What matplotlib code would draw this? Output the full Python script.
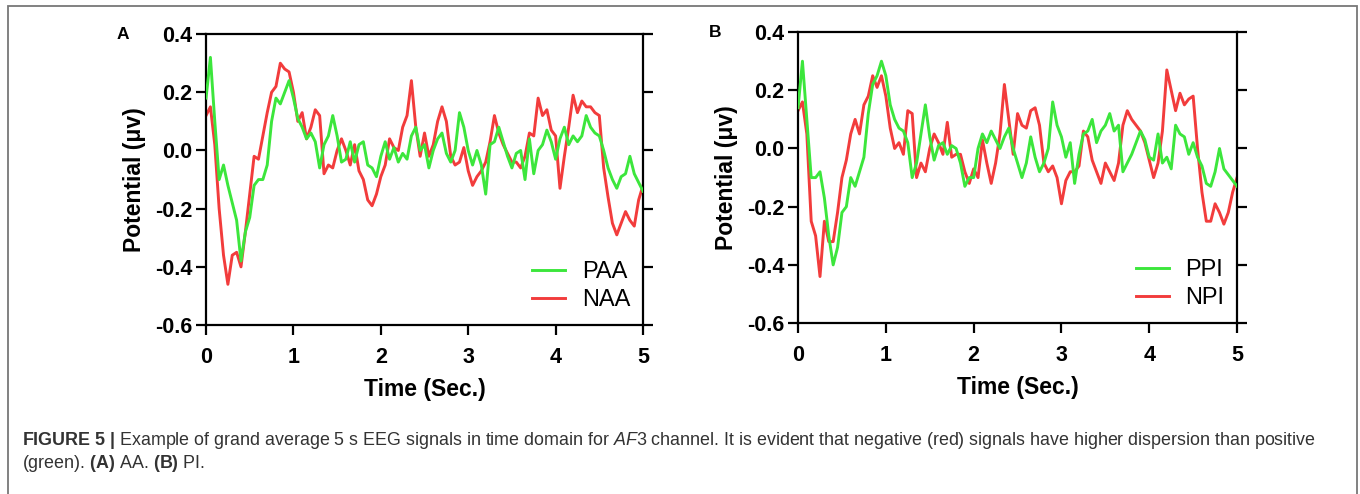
import numpy as np
import matplotlib
matplotlib.use('Agg')
import matplotlib.pyplot as plt
from matplotlib.patches import Rectangle

plt.rcParams['font.family'] = ['Liberation Sans', 'DejaVu Sans']
plt.rcParams['mathtext.fontset'] = 'custom'
plt.rcParams['mathtext.rm'] = 'Liberation Sans'
plt.rcParams['mathtext.bf'] = 'Liberation Sans:bold'
plt.rcParams['mathtext.it'] = 'Liberation Sans:italic'

# Zeitachse, 0.05 s Schritt
time = np.linspace(0, 5, 101)

# Panel A (AA)
paa = [0.18, 0.32, 0.10, -0.10, -0.05, -0.12, -0.18, -0.24, -0.38, -0.28,
       -0.23, -0.12, -0.10, -0.10, -0.05, 0.10, 0.18, 0.16, 0.20, 0.24,
       0.18, 0.11, 0.08, 0.04, 0.06, 0.03, -0.06, 0.02, 0.05, 0.12,
       0.05, -0.04, -0.03, 0.03, -0.04, 0.02, 0.03, -0.05, -0.06, -0.09,
       -0.02, 0.03, -0.03, 0.01, -0.04, -0.01, -0.03, 0.05, 0.08, 0.00,
       0.02, -0.06, 0.00, 0.04, 0.06, -0.01, -0.04, 0.00, 0.13, 0.08,
       0.00, -0.05, 0.00, -0.05, -0.15, 0.02, 0.03, 0.08, 0.03, -0.02,
       -0.06, -0.01, 0.00, -0.10, 0.04, -0.08, 0.00, 0.02, 0.07, 0.03,
       -0.03, 0.04, 0.08, 0.02, 0.05, 0.03, 0.05, 0.12, 0.08, 0.06,
       0.05, 0.00, -0.06, -0.10, -0.13, -0.09, -0.08, -0.02, -0.08, -0.11,
       -0.14]
naa = [0.12, 0.15, 0.02, -0.20, -0.36, -0.46, -0.36, -0.35, -0.40, -0.28,
       -0.15, -0.02, -0.03, 0.05, 0.13, 0.20, 0.22, 0.30, 0.28, 0.27,
       0.20, 0.10, 0.13, 0.04, 0.08, 0.14, 0.12, -0.08, -0.05, -0.06,
       0.00, 0.04, 0.00, -0.05, 0.02, -0.07, -0.10, -0.17, -0.19, -0.15,
       -0.09, -0.05, 0.04, 0.01, 0.00, 0.08, 0.12, 0.24, 0.08, -0.02,
       0.06, -0.02, 0.02, 0.10, 0.15, 0.10, -0.02, -0.05, -0.04, 0.01,
       -0.07, -0.12, -0.09, -0.07, -0.04, 0.03, 0.12, 0.06, 0.02, -0.01,
       -0.04, -0.04, -0.06, -0.02, 0.06, 0.05, 0.18, 0.12, 0.14, 0.07,
       0.05, -0.13, -0.02, 0.08, 0.19, 0.13, 0.17, 0.15, 0.15, 0.13,
       0.12, -0.06, -0.16, -0.25, -0.29, -0.25, -0.21, -0.24, -0.26, -0.17,
       -0.12]

# Panel B (PI)
ppi = [0.14, 0.30, 0.10, -0.10, -0.10, -0.08, -0.17, -0.30, -0.40, -0.34,
       -0.22, -0.20, -0.10, -0.13, -0.08, -0.03, 0.12, 0.22, 0.25, 0.30,
       0.25, 0.15, 0.10, 0.07, 0.06, 0.02, -0.10, -0.05, 0.05, 0.15,
       0.04, -0.04, 0.01, 0.02, -0.02, 0.01, 0.00, -0.05, -0.13, -0.10,
       -0.10, 0.00, 0.05, 0.02, 0.06, 0.03, 0.00, 0.04, 0.07, 0.00,
       -0.05, -0.10, -0.05, 0.04, -0.03, -0.08, -0.05, 0.00, 0.16, 0.08,
       0.04, -0.03, 0.02, -0.12, -0.02, 0.05, 0.06, 0.10, 0.02, 0.06,
       0.08, 0.12, 0.06, 0.08, -0.08, -0.05, -0.02, 0.02, 0.06, 0.03,
       -0.03, -0.04, 0.05, -0.05, -0.03, -0.07, 0.08, 0.05, 0.04, -0.02,
       0.02, -0.03, -0.06, -0.12, -0.13, -0.08, 0.00, -0.07, -0.09, -0.11,
       -0.13]
npi = [0.13, 0.16, 0.05, -0.25, -0.30, -0.44, -0.25, -0.32, -0.32, -0.22,
       -0.10, -0.04, 0.05, 0.10, 0.05, 0.15, 0.18, 0.25, 0.21, 0.25,
       0.18, 0.07, 0.00, 0.02, -0.02, 0.13, 0.12, -0.10, -0.05, -0.08,
       0.00, 0.05, 0.02, -0.02, 0.09, -0.03, -0.02, -0.02, -0.08, -0.12,
       -0.07, -0.10, 0.03, -0.05, -0.12, -0.05, 0.05, 0.22, 0.10, -0.02,
       0.12, 0.08, 0.07, 0.13, 0.14, 0.08, -0.05, -0.08, -0.06, -0.10,
       -0.19, -0.11, -0.08, -0.08, -0.06, 0.06, 0.04, -0.04, -0.08, -0.12,
       -0.05, -0.08, -0.11, -0.05, 0.08, 0.13, 0.10, 0.08, 0.06, 0.02,
       -0.04, -0.10, -0.05, 0.06, 0.27, 0.20, 0.13, 0.19, 0.15, 0.17,
       0.18, 0.00, -0.15, -0.25, -0.25, -0.19, -0.22, -0.26, -0.22, -0.15,
       -0.10]

yticks = [-0.6, -0.4, -0.2, 0.0, 0.2, 0.4]
xticks = [0, 1, 2, 3, 4, 5]

green = '#3ce63c'
red = '#f23c3c'

fig = plt.figure(figsize=(13.6, 4.94), dpi=100)

panels = [
    ('A', [0.1515, 0.342, 0.3213, 0.589], paa, naa, 'PAA', 'NAA'),
    ('B', [0.5868, 0.346, 0.3228, 0.589], ppi, npi, 'PPI', 'NPI'),
]

for letter, rect, pos, neg, pos_name, neg_name in panels:
    ax = fig.add_axes(rect)
    ax.plot(time, pos, color=green, lw=2.1, label=pos_name, zorder=3)
    ax.plot(time, neg, color=red, lw=2.1, label=neg_name, zorder=2)
    ax.set_xlim(0, 5)
    ax.set_ylim(-0.6, 0.4)
    ax.set_xticks(xticks)
    ax.set_yticks(yticks)
    ax.set_yticklabels(['%.1f' % v for v in yticks])
    for s in ax.spines.values():
        s.set_linewidth(1.6)
    ax.tick_params(axis='both', which='major', length=7, width=1.6,
                   labelsize=15.5, direction='out')
    ax.tick_params(axis='x', pad=9)
    ax.tick_params(axis='y', pad=3, right=True)
    for lab in ax.get_xticklabels() + ax.get_yticklabels():
        lab.set_fontweight('bold')
    ax.set_xlabel('Time (Sec.)', fontsize=16.5, fontweight='bold', labelpad=7)
    ax.set_ylabel('Potential (μv)', fontsize=16.5, fontweight='bold', labelpad=6)
    leg = ax.legend(loc='lower right', frameon=False, fontsize=17,
                    handlelength=1.4, handletextpad=0.72, labelspacing=0.25,
                    bbox_to_anchor=(1.02, -0.025))
    ax.text(-0.19, 1.0, letter, transform=ax.transAxes, fontsize=12.5,
            fontweight='bold', ha='center', va='center')

# Rahmen
fig.patches.append(Rectangle((8 / 1360, -0.01), 1349 / 1360, 1 - 6 / 494 + 0.01,
                             transform=fig.transFigure, fill=False,
                             edgecolor='#777777', linewidth=1.3))

cap1 = (r"$\mathbf{FIGURE\ 5\ |}$ Example of grand average 5 s EEG signals in time domain for "
        r"$\mathit{AF}$3 channel. It is evident that negative (red) signals have higher dispersion than positive")
cap2 = r"(green). $\mathbf{(A)}$ AA. $\mathbf{(B)}$ PI."
fig.text(22 / 1360, 1 - 440 / 494, cap1, fontsize=12.9, color='#333333', va='center')
fig.text(22 / 1360, 1 - 463 / 494, cap2, fontsize=12.9, color='#333333', va='center')

plt.savefig('out.png', dpi=100)
